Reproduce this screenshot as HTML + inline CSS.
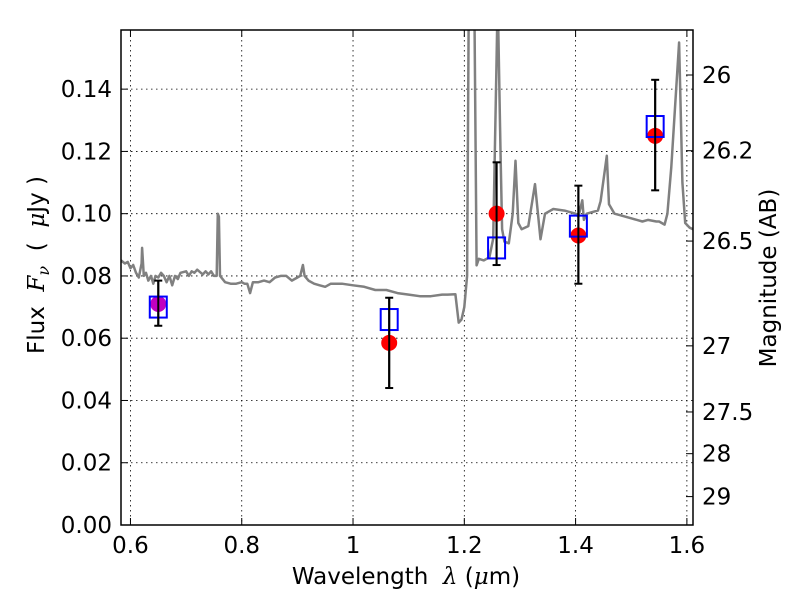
<!DOCTYPE html>
<html><head><meta charset="utf-8"><style>
body{margin:0;background:#fff;}
svg{display:block;font-family:"DejaVu Sans","Liberation Sans",sans-serif;}
</style></head><body>
<svg id="chart" width="800" height="600"></svg>
<script>
const specWave=[0.583,0.590,0.595,0.600,0.605,0.610,0.615,0.620,0.621,0.624,0.628,0.632,0.637,0.641,0.645,0.650,0.655,0.660,0.665,0.670,0.675,0.680,0.685,0.690,0.700,0.705,0.710,0.715,0.720,0.730,0.735,0.740,0.745,0.750,0.755,0.757,0.759,0.761,0.770,0.780,0.790,0.800,0.805,0.810,0.815,0.820,0.830,0.840,0.850,0.860,0.870,0.880,0.890,0.900,0.905,0.910,0.913,0.920,0.930,0.940,0.950,0.960,0.980,1.000,1.020,1.040,1.060,1.080,1.100,1.120,1.140,1.160,1.170,1.184,1.190,1.195,1.200,1.205,1.208,1.218,1.222,1.226,1.235,1.245,1.252,1.258,1.260,1.265,1.268,1.272,1.280,1.287,1.292,1.297,1.303,1.315,1.327,1.337,1.345,1.360,1.380,1.400,1.405,1.412,1.415,1.420,1.430,1.440,1.445,1.456,1.460,1.470,1.480,1.500,1.520,1.530,1.545,1.550,1.560,1.565,1.572,1.586,1.592,1.597,1.605,1.611];
const specFlux=[0.085,0.084,0.0845,0.0825,0.0835,0.081,0.0795,0.084,0.089,0.080,0.081,0.0785,0.080,0.0775,0.080,0.0795,0.081,0.080,0.078,0.080,0.077,0.080,0.079,0.081,0.0815,0.080,0.0815,0.081,0.082,0.0805,0.0815,0.0805,0.0815,0.080,0.080,0.100,0.099,0.080,0.078,0.0775,0.0775,0.078,0.0775,0.0775,0.0745,0.078,0.078,0.0785,0.078,0.0795,0.080,0.080,0.0785,0.0795,0.080,0.0835,0.080,0.0785,0.0775,0.077,0.0765,0.0775,0.0775,0.077,0.0765,0.0755,0.0755,0.0745,0.074,0.0735,0.0735,0.074,0.074,0.0741,0.065,0.066,0.070,0.080,0.17,0.17,0.0834,0.0855,0.085,0.086,0.092,0.15,0.17,0.12,0.095,0.091,0.0905,0.100,0.117,0.097,0.095,0.096,0.1095,0.0918,0.100,0.1015,0.101,0.100,0.099,0.1043,0.098,0.100,0.1005,0.101,0.104,0.1186,0.103,0.100,0.0995,0.0985,0.0975,0.098,0.0975,0.0975,0.0965,0.100,0.115,0.155,0.11,0.097,0.0955,0.095];
const bandWave=[0.650,1.065,1.258,1.405,1.543];
const obsFlux=[0.071,0.0585,0.100,0.093,0.125];
const errLow=[0.064,0.044,0.0835,0.0775,0.1075];
const errHigh=[0.0785,0.073,0.1165,0.109,0.143];
const modelFlux=[0.070,0.066,0.089,0.096,0.128];
const xTicks=[0.6,0.8,1.0,1.2,1.4,1.6];
const xTickLabels=["0.6","0.8","1","1.2","1.4","1.6"];
const yTicks=[0,0.02,0.04,0.06,0.08,0.10,0.12,0.14];
const yTickLabels=["0.00","0.02","0.04","0.06","0.08","0.10","0.12","0.14"];
const magTicks=[26,26.2,26.5,27,27.5,28,29];
const magTickLabels=["26","26.2","26.5","27","27.5","28","29"];

const L=121,R=693,T=30,B=525;
const xMin=0.583,xMax=1.611,yMin=0,yMax=0.159;
const sx=v=>L+(v-xMin)/(xMax-xMin)*(R-L);
const sy=v=>B-(v-yMin)/(yMax-yMin)*(B-T);
const magToFlux=m=>Math.pow(10,(23.9-m)/2.5);
const svg=document.getElementById('chart');
const NS='http://www.w3.org/2000/svg';
function mk(tag,attrs,parent){const e=document.createElementNS(NS,tag);for(const k in attrs)e.setAttribute(k,attrs[k]);(parent||svg).appendChild(e);return e;}

const defs=mk('defs',{});
const cp=mk('clipPath',{id:'clip'},defs);
mk('rect',{x:L,y:T,width:R-L,height:B-T},cp);

const grid=mk('g',{});


xTicks.forEach(v=>{mk('line',{x1:sx(v),x2:sx(v),y1:T,y2:B,stroke:'#000','stroke-width':0.8,'stroke-dasharray':'1.5,3.5'},grid);});
yTicks.forEach(v=>{mk('line',{x1:L,x2:R,y1:sy(v),y2:sy(v),stroke:'#000','stroke-width':0.8,'stroke-dasharray':'1.5,3.5'},grid);});

const pts=specWave.map((w,i)=>sx(w).toFixed(1)+','+sy(specFlux[i]).toFixed(1)).join(' ');
const spec=mk('polyline',{points:pts,fill:'none',stroke:'#808080','stroke-width':2.5,'stroke-linejoin':'round','clip-path':'url(#clip)'});



bandWave.forEach((w,i)=>{
  const g=mk('g',{});
  
  
  const x=sx(w);
  mk('line',{x1:x,x2:x,y1:sy(errLow[i]),y2:sy(errHigh[i]),stroke:'#000','stroke-width':2},g);
  mk('line',{x1:x-4,x2:x+4,y1:sy(errLow[i]),y2:sy(errLow[i]),stroke:'#000','stroke-width':2},g);
  mk('line',{x1:x-4,x2:x+4,y1:sy(errHigh[i]),y2:sy(errHigh[i]),stroke:'#000','stroke-width':2},g);
});
bandWave.forEach((w,i)=>{
  const c=mk('circle',{cx:sx(w),cy:sy(obsFlux[i]),r:8,fill:i===0?'#c000c0':'#ff0000'});
  
  
});
bandWave.forEach((w,i)=>{
  const s=mk('rect',{x:sx(w)-8.5,y:sy(modelFlux[i])-10.5,width:17,height:21,fill:'none',stroke:'#0000ff','stroke-width':2});
  
  
});
bandWave.forEach((w,i)=>{mk('line',{x1:sx(w),x2:sx(w),y1:sy(errLow[i]),y2:sy(errHigh[i]),stroke:'#000','stroke-width':2});});

const fr=mk('rect',{x:L,y:T,width:R-L,height:B-T,fill:'none',stroke:'#000','stroke-width':1.5});



xTicks.forEach((v,i)=>{
  mk('line',{x1:sx(v),x2:sx(v),y1:B,y2:B-7,stroke:'#000','stroke-width':1});
  mk('line',{x1:sx(v),x2:sx(v),y1:T,y2:T+7,stroke:'#000','stroke-width':1});
  const t=mk('text',{x:sx(v),y:B+28,'text-anchor':'middle','font-size':23});
  t.textContent=xTickLabels[i];
  
  
});
yTicks.forEach((v,i)=>{
  mk('line',{x1:L,x2:L+7,y1:sy(v),y2:sy(v),stroke:'#000','stroke-width':1});
  const t=mk('text',{x:L-9,y:sy(v)+8,'text-anchor':'end','font-size':23});
  t.textContent=yTickLabels[i];
  
  
});
magTicks.forEach((m,i)=>{
  const y=sy(magToFlux(m));
  mk('line',{x1:R,x2:R-7,y1:y,y2:y,stroke:'#000','stroke-width':1});
  const t=mk('text',{x:R+9,y:y+8,'font-size':23});
  t.textContent=magTickLabels[i];
  
  
});
</script>
<svg style="position:absolute;left:0;top:0" width="800" height="600">
<text x="406" y="584" text-anchor="middle" font-size="23" font-family="DejaVu Sans, Liberation Sans, sans-serif" xml:space="preserve">Wavelength  <tspan font-style="italic" font-family="DejaVu Serif, serif">λ</tspan> (<tspan font-style="italic" font-family="DejaVu Serif, serif">μ</tspan>m)</text>
<text transform="translate(44,265) rotate(-90)" text-anchor="middle" font-size="23" font-family="DejaVu Sans, Liberation Sans, sans-serif" xml:space="preserve">Flux  <tspan font-style="italic" font-family="DejaVu Serif, serif">F</tspan><tspan font-style="italic" font-size="16" dy="5" font-family="DejaVu Serif, serif">ν</tspan><tspan dy="-5">  (  </tspan><tspan font-style="italic" font-family="DejaVu Serif, serif">μ</tspan>Jy )</text>
<text transform="translate(776,278) rotate(-90)" text-anchor="middle" font-size="23" font-family="DejaVu Sans, Liberation Sans, sans-serif">Magnitude (AB)</text>
</svg>
</body></html>
